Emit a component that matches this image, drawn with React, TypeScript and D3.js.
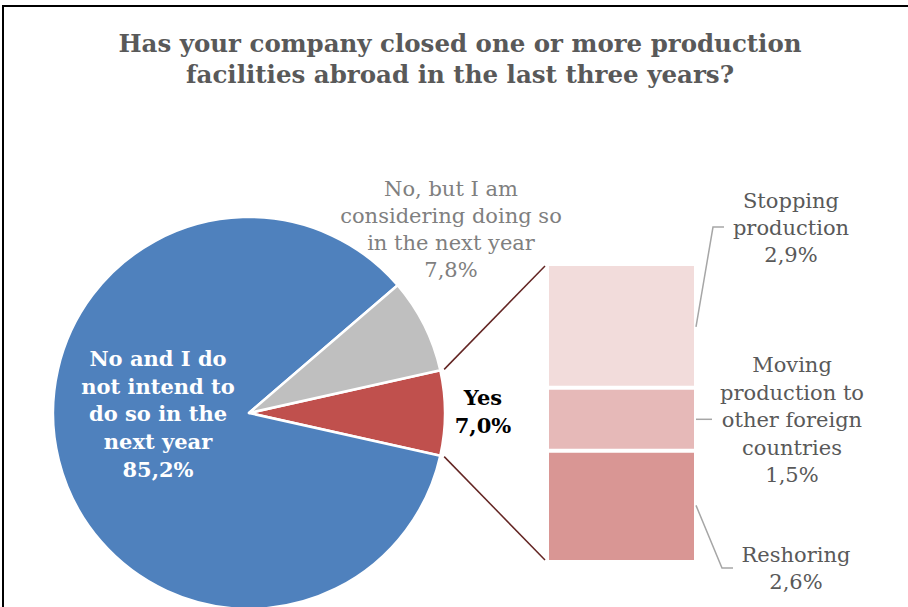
import React from "react";
import * as d3 from "d3";

const W = 908;
const H = 607;

// Pie data (percent)
const pieCategories = ["Yes", "No and I do not intend to do so in the next year", "No, but I am considering doing so in the next year"];
const pieValues = [7.0, 85.2, 7.8];
const pieColors = ["#C0504D", "#4F81BD", "#BFBFBF"];

// Bar (breakdown of "Yes"), bottom to top
const barCategories = ["Reshoring", "Moving production to other foreign countries", "Stopping production"];
const barValues = [2.6, 1.5, 2.9];
const barColors = ["#D99694", "#E6B9B8", "#F2DCDB"];

const titleLines = ["Has your company closed one or more production", "facilities abroad in the last three years?"];

const FONT = "'DejaVu Serif', Georgia, serif";

function Label({ x, y, lines, size, color, weight, lh }: { x: number; y: number; lines: string[]; size: number; color: string; weight?: string; lh: number }) {
  return (
    <text x={x} y={y} textAnchor="middle" fontFamily={FONT} fontSize={size} fill={color} fontWeight={weight || "normal"}>
      {lines.map((l, i) => (
        <tspan key={i} x={x} y={y + i * lh}>
          {l}
        </tspan>
      ))}
    </text>
  );
}

export default function App() {
  const cx = 249;
  const cy = 413;
  const r = 196;
  const yesShare = pieValues[0] / d3.sum(pieValues);
  const start = Math.PI / 2 - yesShare * Math.PI;
  const pie = d3
    .pie<number>()
    .sort(null)
    .value((d) => d)
    .startAngle(start)
    .endAngle(start + 2 * Math.PI);
  const arcs = pie(pieValues);
  const arcGen = d3.arc<d3.PieArcDatum<number>>().innerRadius(0).outerRadius(r);

  const total = d3.sum(barValues);
  const yBar = d3.scaleLinear().domain([0, total]).range([560, 266]);
  const xBar = d3.scaleLinear().domain([0, 1]).range([549, 694]);
  const stacked = barValues.map((v, i) => {
    const base = d3.sum(barValues.slice(0, i));
    return { v, base, top: base + v, color: barColors[i] };
  });

  const yesArc = arcs[0];
  const pt = (a: number, rr: number) => [cx + rr * Math.sin(a), cy - rr * Math.cos(a)];
  const [t0x, t0y] = pt(yesArc.startAngle, r + 4);
  const [t1x, t1y] = pt(yesArc.endAngle, r + 4);

  const mid = (i: number) => (yBar(stacked[i].base) + yBar(stacked[i].top)) / 2;
  const bx1 = xBar(1);

  return (
    <svg width={W} height={H} style={{ position: "absolute", left: 0, top: 0, background: "#fff" }}>
      <rect x={0} y={0} width={W} height={H} fill="#fff" />
      <rect x={3} y={6} width={W + 20} height={H + 20} fill="none" stroke="#000" strokeWidth={2} />
      {titleLines.map((t, i) => (
        <text
          key={i}
          x={460}
          y={52 + i * 31}
          textAnchor="middle"
          fontFamily={FONT}
          fontWeight="bold"
          fontSize={24}
          fill="#595959"
          textLength={i === 0 ? 683 : 548}
          lengthAdjust="spacingAndGlyphs"
        >
          {t}
        </text>
      ))}

      {arcs.map((a, i) => (
        <path key={i} d={arcGen(a) || ""} transform={`translate(${cx},${cy})`} fill={pieColors[i]} stroke="#fff" strokeWidth={2.5} strokeLinejoin="round" />
      ))}

      <line x1={t0x} y1={t0y} x2={xBar(0) - 4} y2={yBar(total)} stroke="#632523" strokeWidth={1.5} />
      <line x1={t1x} y1={t1y} x2={xBar(0) - 4} y2={yBar(0)} stroke="#632523" strokeWidth={1.5} />

      {stacked.map((s, i) => (
        <rect key={i} x={xBar(0)} y={yBar(s.top)} width={xBar(1) - xBar(0)} height={yBar(s.base) - yBar(s.top)} fill={s.color} />
      ))}
      {stacked.slice(1).map((s, i) => (
        <line key={i} x1={xBar(0)} x2={xBar(1)} y1={yBar(s.base)} y2={yBar(s.base)} stroke="#fff" strokeWidth={4} />
      ))}

      {/* leader lines */}
      <polyline points={`${bx1 + 2},${mid(2)} ${bx1 + 19},227 ${bx1 + 30},227`} fill="none" stroke="#A6A6A6" strokeWidth={1.5} />
      <polyline points={`${bx1 + 2},${mid(1)} ${bx1 + 18},${mid(1)}`} fill="none" stroke="#A6A6A6" strokeWidth={1.5} />
      <polyline points={`${bx1 + 2},${mid(0)} ${bx1 + 28},568 ${bx1 + 39},568`} fill="none" stroke="#A6A6A6" strokeWidth={1.5} />

      <Label x={158} y={366} lines={["No and I do", "not intend to", "do so in the", "next year", "85,2%"]} size={21} color="#fff" weight="bold" lh={27.7} />
      <Label x={451} y={196} lines={["No, but I am", "considering doing so", "in the next year", "7,8%"]} size={21} color="#7F7F7F" lh={27} />
      <Label x={483} y={405} lines={["Yes", "7,0%"]} size={21} color="#000" weight="bold" lh={28} />
      <Label x={791} y={208} lines={["Stopping", "production", "2,9%"]} size={21} color="#595959" lh={27} />
      <Label x={792} y={372} lines={["Moving", "production to", "other foreign", "countries", "1,5%"]} size={21} color="#595959" lh={27.5} />
      <Label x={796} y={562} lines={["Reshoring", "2,6%"]} size={21} color="#595959" lh={27} />
    </svg>
  );
}
